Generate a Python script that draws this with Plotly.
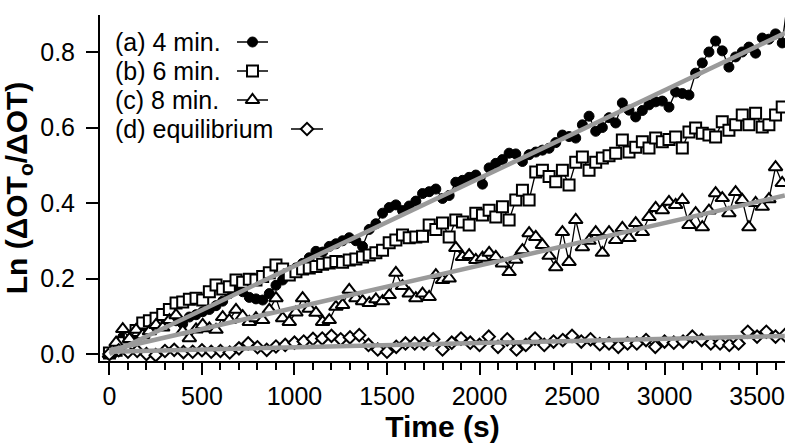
import plotly.graph_objects as go

# sampling grids (s)
t36 = list(range(0, 3637, 36))
time_a = t36 + [3672]
time_b = t36
time_c = t36
time_d = list(range(0, 3651, 50))

# (a) 4 min.
val_a = [0.000, 0.025, 0.045, 0.050, 0.048, 0.056, 0.062, 0.085, 0.105, 0.092,
         0.088, 0.080, 0.098, 0.104, 0.112, 0.118, 0.128, 0.140, 0.160, 0.178,
         0.165, 0.150, 0.146, 0.143, 0.160, 0.182, 0.196, 0.212, 0.228, 0.240,
         0.255, 0.272, 0.270, 0.285, 0.292, 0.300, 0.308, 0.300, 0.285, 0.330,
         0.345, 0.373, 0.388, 0.395, 0.380, 0.392, 0.405, 0.425, 0.430, 0.437,
         0.412, 0.420, 0.455, 0.460, 0.468, 0.474, 0.450, 0.493, 0.505, 0.515,
         0.532, 0.530, 0.510, 0.528, 0.535, 0.540, 0.545, 0.560, 0.580, 0.576,
         0.572, 0.607, 0.630, 0.590, 0.600, 0.626, 0.612, 0.665, 0.646, 0.628,
         0.645, 0.660, 0.668, 0.670, 0.654, 0.694, 0.690, 0.686, 0.744, 0.771,
         0.800, 0.829, 0.803, 0.760, 0.787, 0.800, 0.813, 0.797, 0.837, 0.834,
         0.848, 0.824, 0.960]

# (b) 6 min.
val_b = [0.003, 0.010, 0.030, 0.045, 0.062, 0.082, 0.088, 0.095, 0.105, 0.118,
         0.135, 0.138, 0.145, 0.148, 0.143, 0.165, 0.183, 0.172, 0.178, 0.196,
         0.190, 0.198, 0.196, 0.205, 0.215, 0.236, 0.225, 0.209, 0.218, 0.225,
         0.228, 0.232, 0.238, 0.241, 0.245, 0.243, 0.249, 0.252, 0.257, 0.262,
         0.268, 0.275, 0.295, 0.302, 0.315, 0.308, 0.310, 0.312, 0.342, 0.330,
         0.347, 0.310, 0.355, 0.350, 0.342, 0.373, 0.368, 0.381, 0.363, 0.390,
         0.355, 0.408, 0.434, 0.408, 0.482, 0.487, 0.470, 0.456, 0.487, 0.448,
         0.508, 0.522, 0.487, 0.508, 0.519, 0.525, 0.532, 0.567, 0.535, 0.548,
         0.562, 0.546, 0.572, 0.562, 0.568, 0.575, 0.546, 0.588, 0.599, 0.585,
         0.580, 0.575, 0.615, 0.593, 0.607, 0.633, 0.607, 0.638, 0.601, 0.607,
         0.633, 0.654]

# (c) 8 min.
val_c = [0.000, 0.030, 0.066, 0.040, 0.064, 0.050, 0.060, 0.077, 0.070, 0.090,
         0.103, 0.060, 0.042, 0.065, 0.077, 0.068, 0.064, 0.098, 0.090, 0.117,
         0.100, 0.085, 0.095, 0.090, 0.117, 0.148, 0.095, 0.085, 0.110, 0.148,
         0.120, 0.109, 0.085, 0.090, 0.125, 0.130, 0.170, 0.148, 0.140, 0.135,
         0.145, 0.140, 0.156, 0.215, 0.180, 0.160, 0.148, 0.160, 0.151, 0.209,
         0.196, 0.200, 0.281, 0.257, 0.262, 0.249, 0.255, 0.268, 0.257, 0.240,
         0.217, 0.250, 0.275, 0.320, 0.310, 0.289, 0.260, 0.230, 0.323, 0.244,
         0.355, 0.283, 0.300, 0.323, 0.268, 0.323, 0.302, 0.334, 0.307, 0.347,
         0.323, 0.363, 0.387, 0.381, 0.403, 0.395, 0.408, 0.342, 0.373, 0.336,
         0.380, 0.426, 0.413, 0.373, 0.429, 0.408, 0.336, 0.400, 0.390, 0.410,
         0.495, 0.453]

# (d) equilibrium
val_d = [0.000, 0.010, 0.006, 0.008, 0.000, -0.003, 0.008, 0.011, 0.005, 0.006,
         0.010, 0.006, 0.008, 0.004, 0.015, 0.028, 0.018, 0.011, 0.020, 0.024,
         0.030, 0.033, 0.040, 0.041, 0.048, 0.039, 0.044, 0.050, 0.024, 0.012,
         0.006, 0.019, 0.028, 0.028, 0.028, 0.039, 0.012, 0.030, 0.041, 0.030,
         0.024, 0.046, 0.019, 0.039, 0.012, 0.024, 0.041, 0.024, 0.033, 0.037,
         0.048, 0.033, 0.039, 0.026, 0.028, 0.019, 0.028, 0.028, 0.037, 0.019,
         0.033, 0.030, 0.033, 0.046, 0.037, 0.028, 0.028, 0.024, 0.028, 0.059,
         0.046, 0.059, 0.046, 0.050]

# linear fits (end points)
fit_t = [0, 3650]
fit_a = [0.000, 0.850]
fit_c = [0.010, 0.420]
fit_d = [0.006, 0.048]

labels = ["(a) 4 min.", "(b) 6 min.", "(c) 8 min.", "(d) equilibrium"]

FONT = "Liberation Sans, Arial, Helvetica, sans-serif"
styles = [
    dict(symbol="circle", size=10, color="black", line=dict(color="black", width=1)),
    dict(symbol="square", size=11, color="white", line=dict(color="black", width=2)),
    dict(symbol="triangle-up", size=12, color="white", line=dict(color="black", width=2)),
    dict(symbol="diamond", size=9.5, color="white", line=dict(color="black", width=2)),
]

fig = go.Figure()
series = [(time_a, val_a), (time_b, val_b), (time_c, val_c), (time_d, val_d)]
for (t, v), st, name in zip(series, styles, labels):
    fig.add_trace(go.Scatter(x=t, y=v, mode="lines+markers", name=name,
                             line=dict(color="black", width=1.3), marker=st,
                             showlegend=False))

for fv in (fit_a, fit_c, fit_d):
    fig.add_trace(go.Scatter(x=fit_t, y=fv, mode="lines",
                             line=dict(color="#9a9a9a", width=4.5),
                             showlegend=False, hoverinfo="skip"))

# hand-made legend (symbol after the text, Igor style), on a pixel overlay axis
leg_rows = [42, 71, 100, 129]
leg_x = [(237, 268), (237, 268), (237, 268), (291, 323)]
for row, (x0, x1), st, name in zip(leg_rows, leg_x, styles, labels):
    fig.add_trace(go.Scatter(x=[x0, (x0 + x1) / 2, x1], y=[row, row, row],
                             mode="lines", line=dict(color="black", width=1.5),
                             xaxis="x2", yaxis="y2", showlegend=False, hoverinfo="skip"))
    fig.add_trace(go.Scatter(x=[(x0 + x1) / 2], y=[row], mode="markers", marker=st,
                             xaxis="x2", yaxis="y2", showlegend=False, hoverinfo="skip"))
    fig.add_annotation(x=113, y=row, xref="x2", yref="y2", text=name, showarrow=False,
                       xanchor="left", yanchor="middle",
                       font=dict(family=FONT, size=25, color="black"))

fig.update_layout(
    width=800, height=448,
    paper_bgcolor="white", plot_bgcolor="white",
    margin=dict(l=100, r=15, t=15, b=87),
    font=dict(family=FONT, size=25, color="black"),
    xaxis=dict(range=[-51, 3651], tick0=0, dtick=500, showgrid=False, zeroline=False,
               showline=True, linecolor="black", linewidth=2,
               ticks="outside", ticklen=12, tickwidth=2, tickcolor="black",
               minor=dict(dtick=100, ticks="outside", ticklen=7, tickwidth=2, tickcolor="black"),
               title=dict(text="<b>Time (s)</b>", standoff=2)),
    yaxis=dict(range=[-0.0185, 0.898], tick0=0, dtick=0.2, tickformat=".1f",
               showgrid=False, zeroline=False,
               showline=True, linecolor="black", linewidth=2,
               ticks="outside", ticklen=12, tickwidth=2, tickcolor="black",
               ticklabelstandoff=6,
               title=dict(text="<b>Ln (ΔOT<sub>o</sub>/ΔOT)</b>", standoff=8)),
    xaxis2=dict(range=[100, 785], overlaying="x", anchor="y2", visible=False, fixedrange=True),
    yaxis2=dict(range=[361, 15], overlaying="y", anchor="x2", visible=False, fixedrange=True),
)

fig.write_html("out.html", config={"displayModeBar": False},
               post_script="document.body.style.margin='0';")
